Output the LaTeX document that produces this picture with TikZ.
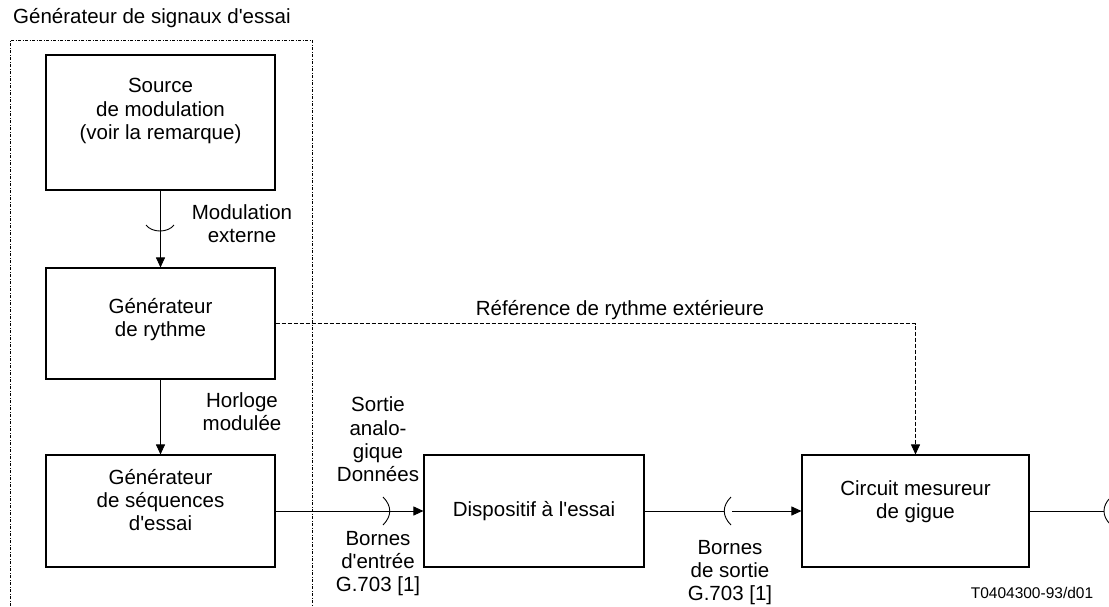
\documentclass[tikz,border=0pt]{standalone}
\usepackage{fontspec}
\newfontfamily\arl{Liberation Sans}
\usetikzlibrary{arrows.meta}
\begin{document}
\arl\fontsize{20.5}{23.3}\selectfont
\begin{tikzpicture}[x=1pt,y=-1pt,
  blk/.style={draw=black,line width=1.1pt,rectangle,fill=white,inner sep=0pt,minimum width=229pt,minimum height=112pt},
  lbl/.style={inner sep=0pt},
  ar/.style={line width=0.9pt,-{Triangle[length=10pt,width=9pt]}},
  frm/.style={line width=0.7pt,dash pattern=on 3pt off 1.5pt on 1pt off 1.5pt},
  ref/.style={line width=0.8pt,dash pattern=on 4pt off 2pt}]
\useasboundingbox (0,0) rectangle (1109,606);
\draw[frm] (10,606) -- (10,40) -- (312,40) -- (312,606);
\node[lbl,anchor=west] (TT) at (13,18) {Générateur de signaux d'essai};
\node[blk,minimum height=135pt] (SM) at (160.5,122.5) {\begin{tabular}{c}Source\\de modulation\\(voir la remarque)\\[22pt]\end{tabular}};
\node[blk,minimum height=111pt] (GR) at (160.5,323.5) {\begin{tabular}{c}Générateur\\de rythme\\[6pt]\end{tabular}};
\node[blk] (GS) at (160.5,511) {\begin{tabular}{c}Générateur\\de séquences\\d'essai\\[16pt]\end{tabular}};
\node[blk,minimum width=220pt] (DE) at (534,511) {Dispositif à l'essai};
\node[blk,minimum width=227pt] (CM) at (915.5,511) {\begin{tabular}{c}Circuit mesureur\\de gigue\\[18pt]\end{tabular}};
\node[lbl] (LM) at (242,226) {\begin{tabular}{c}Modulation\\externe\end{tabular}};
\node[lbl] (LH) at (242,414) {\begin{tabular}{c}Horloge\\modulée\end{tabular}};
\node[lbl] (LR) at (620,310) {Référence de rythme extérieure};
\node[lbl] (LS) at (378,442) {\begin{tabular}{c}Sortie\\analo-\\gique\\Données\end{tabular}};
\node[lbl] (LE) at (378,564) {\begin{tabular}{c}Bornes\\d'entrée\\G.703 [1]\end{tabular}};
\node[lbl] (LB) at (730,573) {\begin{tabular}{c}Bornes\\de sortie\\G.703 [1]\end{tabular}};
\node[lbl,font=\fontsize{15.5}{18}\selectfont] (ID) at (1032,593) {T0404300-93/d01};
% liaisons
\draw[ar] (SM) -- (GR);
\draw[line width=0.9pt] (146,225) .. controls (152,233) and (168,233) .. (174,225);
\draw[ar] (GR) -- (GS);
\draw[ref,ar] (GR.east) -| (CM.north);
\draw[ar] (GS) -- (DE);
\draw[line width=0.9pt] (383,497) .. controls (392,506) and (392,516) .. (383,525);
\coordinate (KA) at (724,511);
\coordinate (KB) at (732,511);
\draw[line width=0.9pt] (DE.east) -- (KA);
\draw[line width=0.9pt] (731,497) .. controls (722,506) and (722,516) .. (731,525);
\draw[ar] (KB) -- (CM.west);
\coordinate (KC) at (1104,511);
\draw[line width=0.9pt] (CM.east) -- (KC);
\draw[line width=0.9pt] (1110,498) .. controls (1102,506) and (1102,516) .. (1110,524);
\end{tikzpicture}
\end{document}
